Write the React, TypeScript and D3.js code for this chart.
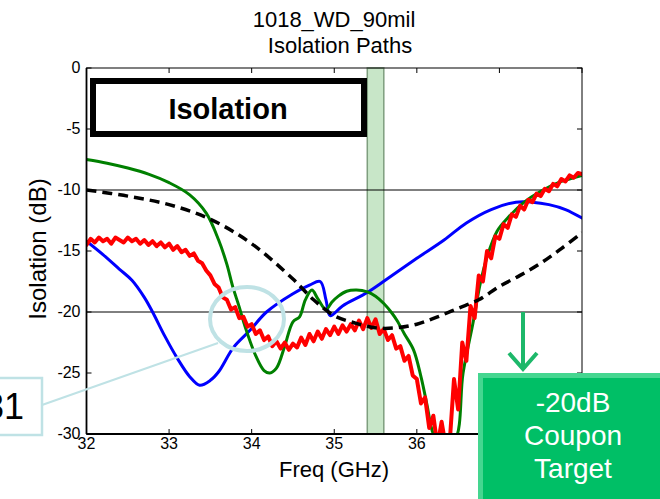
import React from 'react';
import * as d3 from 'd3';

// chart data (Freq GHz, Isolation dB)
const xTicks = [32, 33, 34, 35, 36, 37, 38];
const yTicks = [0, -5, -10, -15, -20, -25, -30];
const refLines = [-10, -20];
const band = [35.4, 35.6];

const blueFreq = [32.0, 32.2, 32.4, 32.55, 32.7, 32.8, 32.95, 33.1, 33.25, 33.37, 33.5, 33.6, 33.78, 33.98, 34.18, 34.5, 34.7, 34.83, 34.9, 34.95, 35.1, 35.4, 35.7, 36.0, 36.33, 36.6, 36.9, 37.2, 37.4, 37.6, 37.8, 38.0];
const blueIso = [-14.2, -15.3, -16.5, -17.4, -18.8, -20.0, -22.0, -23.8, -25.3, -26.0, -25.6, -24.9, -22.9, -21.5, -20.0, -18.5, -17.8, -17.5, -19.0, -20.3, -19.5, -18.4, -17.0, -15.6, -14.1, -12.7, -11.6, -11.0, -11.0, -11.2, -11.6, -12.3];

const greenFreq = [32.0, 32.25, 32.5, 32.75, 33.0, 33.25, 33.45, 33.6, 33.7, 33.77, 33.85, 33.92, 34.05, 34.15, 34.22, 34.3, 34.4, 34.5, 34.58, 34.65, 34.73, 34.8, 34.9, 34.97, 35.05, 35.15, 35.27, 35.4, 35.5, 35.6, 35.7, 35.76, 35.85, 35.96, 36.05, 36.12, 36.2, 36.3, 36.46, 36.56, 36.68, 36.77, 36.85, 36.97, 37.1, 37.3, 37.5, 37.75, 38.0];
const greenIso = [-7.5, -7.8, -8.2, -8.7, -9.4, -10.4, -11.9, -14.1, -16.1, -17.9, -19.6, -21.2, -23.6, -24.8, -25.0, -24.6, -22.8, -20.8, -20.4, -19.0, -18.2, -18.9, -19.8, -19.2, -18.7, -18.3, -18.2, -18.35, -18.7, -19.3, -20.1, -20.7, -21.8, -23.1, -25.3, -27.5, -30.0, -31.0, -30.5, -25.0, -20.9, -17.6, -15.5, -13.4, -12.3, -11.0, -10.1, -9.3, -8.8];

const redFreq = [
  32.00, 32.05, 32.10, 32.15, 32.20, 32.25, 32.30, 32.35, 32.40, 32.45,
  32.50, 32.55, 32.60, 32.65, 32.70, 32.75, 32.80, 32.85, 32.90, 32.95,
  33.00, 33.05, 33.10, 33.15, 33.20, 33.25, 33.30, 33.35, 33.40, 33.45,
  33.50, 33.55, 33.60, 33.65, 33.70, 33.75, 33.80, 33.85, 33.90, 33.95,
  34.00, 34.05, 34.10, 34.15, 34.20, 34.25, 34.30, 34.35, 34.40, 34.45,
  34.50, 34.55, 34.60, 34.65, 34.70, 34.75, 34.80, 34.85, 34.90, 34.95,
  35.00, 35.05, 35.10, 35.15, 35.20, 35.25, 35.30, 35.35, 35.40, 35.45,
  35.50, 35.55, 35.60, 35.65, 35.70, 35.75, 35.80, 35.85, 35.90, 35.95,
  36.00, 36.05, 36.10, 36.15, 36.20, 36.25, 36.30, 36.35, 36.40, 36.45,
  36.50, 36.55, 36.60, 36.65, 36.70, 36.75, 36.80, 36.85, 36.90, 36.95,
  37.00, 37.05, 37.10, 37.15, 37.20, 37.25, 37.30, 37.35, 37.40, 37.45,
  37.50, 37.55, 37.60, 37.65, 37.70, 37.75, 37.80, 37.85, 37.90, 37.95, 38.00,
];
const redIso = [
  -14.5, -14.0, -14.3, -13.9, -14.2, -14.0, -14.4, -13.9, -14.1, -14.3,
  -13.9, -14.2, -14.0, -14.4, -14.1, -14.5, -14.2, -14.6, -14.3, -14.7,
  -14.4, -14.9, -14.6, -15.1, -14.9, -15.4, -15.2, -15.8, -16.0, -16.6,
  -17.0, -17.7, -18.0, -18.8, -19.0, -19.8, -19.6, -20.5, -20.4, -21.2,
  -21.0, -21.8, -21.5, -22.3, -22.0, -22.8, -22.4, -23.0, -22.5, -23.1,
  -22.6, -22.9, -22.1, -22.7, -21.8, -22.4, -21.6, -22.2, -21.4, -21.9,
  -21.2, -21.8, -21.1, -21.6, -21.0, -21.5, -20.7, -21.4, -20.5, -21.3,
  -20.6, -21.8, -21.4, -22.3, -21.9, -23.0, -22.8, -24.0, -23.6, -25.2,
  -25.5, -27.5, -27.0, -29.5, -28.5, -31.0, -29.0, -31.0, -30.5, -25.5,
  -28.0, -22.5, -24.0, -19.5, -20.5, -17.0, -17.5, -15.0, -15.6, -13.8,
  -14.0, -12.8, -13.1, -12.0, -12.2, -11.3, -11.6, -10.8, -11.0, -10.3,
  -10.5, -9.9, -10.1, -9.5, -9.7, -9.1, -9.3, -8.8, -9.0, -8.6, -8.7,
];

const dashFreq = [32, 32.5, 33, 33.5, 34, 34.5, 34.75, 35, 35.25, 35.5, 35.75, 36, 36.25, 36.5, 36.75, 37, 37.25, 37.5, 37.75, 38];
const dashIso = [-10, -10.5, -11.2, -12.4, -14.4, -17.3, -19.0, -20.3, -20.9, -21.3, -21.3, -21.0, -20.4, -19.7, -19.0, -17.9, -17.0, -16.0, -14.8, -13.5];

const couponLines = ['-20dB', 'Coupon', 'Target'];

const W = 660;
const H = 499;
const font = '"Liberation Sans", Arial, Helvetica, sans-serif';

const x = d3.scaleLinear().domain([32, 38]).range([86.5, 582]);
const y = d3.scaleLinear().domain([-30, 0]).range([434, 68]);

const zip = (xs: number[], ys: number[]) => xs.map((v, i) => [v, ys[i]] as [number, number]);

const smooth = d3.line<[number, number]>()
  .x(d => x(d[0]))
  .y(d => y(d[1]))
  .curve(d3.curveCatmullRom.alpha(0.5));

const jagged = d3.line<[number, number]>()
  .x(d => x(d[0]))
  .y(d => y(d[1]));

export default function App() {
  const [x0, x1] = x.range();
  const [yb, yt] = y.range();
  const cyan = '#BFE2E5';
  const tick = 5;

  return (
    <div>
      <style>{'body{margin:0}'}</style>
      <svg width={W} height={H} style={{ display: 'block', fontFamily: font }}>
        <defs>
          <clipPath id="plot">
            <rect x={x0} y={yt} width={x1 - x0} height={yb - yt} />
          </clipPath>
        </defs>
        <rect width={W} height={H} fill="#fff" />

        {/* title */}
        <text x={334} y={27} textAnchor="middle" fontSize={22}>1018_WD_90mil</text>
        <text x={340} y={53} textAnchor="middle" fontSize={22}>Isolation Paths</text>

        {/* band */}
        <rect x={x(band[0])} y={yt} width={x(band[1]) - x(band[0])} height={yb - yt}
          fill="#C8E6C8" stroke="#7E9E7E" strokeWidth={1.5} />

        {/* reference lines */}
        {refLines.map(v => (
          <line key={v} x1={x0} x2={x1} y1={y(v)} y2={y(v)} stroke="#000" strokeWidth={1} />
        ))}

        {/* curves */}
        <g clipPath="url(#plot)" fill="none" strokeLinejoin="round" strokeLinecap="round">
          <path d={smooth(zip(blueFreq, blueIso)) || ''} stroke="#0000FF" strokeWidth={3} />
          <path d={smooth(zip(greenFreq, greenIso)) || ''} stroke="#008000" strokeWidth={3} />
          <path d={jagged(zip(redFreq, redIso)) || ''} stroke="#FF0000" strokeWidth={4} />
          <path d={smooth(zip(dashFreq, dashIso)) || ''} stroke="#000" strokeWidth={3.5}
            strokeDasharray="10 6" strokeLinecap="butt" />
        </g>

        {/* axes box and ticks */}
        <rect x={x0} y={yt} width={x1 - x0} height={yb - yt} fill="none" stroke="#000" strokeWidth={1} />
        <line x1={x0} x2={x0} y1={yt} y2={yb} stroke="#000" strokeWidth={1.8} />
        <line x1={x0} x2={x1} y1={yb} y2={yb} stroke="#000" strokeWidth={1.8} />
        {xTicks.map(t => (
          <g key={'x' + t}>
            <line x1={x(t)} x2={x(t)} y1={yb} y2={yb - tick} stroke="#000" />
            <line x1={x(t)} x2={x(t)} y1={yt} y2={yt + tick} stroke="#000" />
            <text x={x(t)} y={yb + 15} textAnchor="middle" fontSize={16}>{t}</text>
          </g>
        ))}
        {yTicks.map(t => (
          <g key={'y' + t}>
            <line x1={x0} x2={x0 + tick} y1={y(t)} y2={y(t)} stroke="#000" />
            <line x1={x1} x2={x1 - tick} y1={y(t)} y2={y(t)} stroke="#000" />
            <text x={x0 - 6} y={y(t) + 5} textAnchor="end" fontSize={16}>{t}</text>
          </g>
        ))}
        <text x={334} y={477} textAnchor="middle" fontSize={22}>Freq (GHz)</text>
        <text transform={`translate(46, ${(yt + yb) / 2 - 2}) rotate(-90)`} textAnchor="middle" fontSize={24}>Isolation (dB)</text>

        {/* Isolation label box */}
        <rect x={93} y={81} width={271} height={53} fill="#fff" stroke="#000" strokeWidth={6} />
        <text x={228} y={119} textAnchor="middle" fontSize={29} fontWeight="bold">Isolation</text>

        {/* callout */}
        <ellipse cx={247} cy={319} rx={37} ry={32} fill="none" stroke={cyan} strokeWidth={4} />
        <line x1={218} y1={343} x2={42} y2={405} stroke={cyan} strokeWidth={2} />
        <rect x={-10} y={378} width={52} height={57} fill="#fff" stroke={cyan} strokeWidth={2.5} />
        <text x={24} y={419} textAnchor="end" fontSize={36}>S31</text>

        {/* coupon target */}
        <line x1={523} x2={523} y1={y(-20)} y2={369} stroke="#1DB86A" strokeWidth={4} />
        <polyline points="509,353 523,369 537,353" fill="none" stroke="#1DB86A" strokeWidth={4} />
        <rect x={478} y={373} width={W - 478} height={H - 373} fill="#00BF66" />
        <polygon points={`478,373 ${W},373 ${W},378 483,378 483,${H} 478,${H}`} fill="#45D690" />
        {couponLines.map((s, i) => (
          <text key={s} x={573} y={412 + i * 33} textAnchor="middle" fontSize={28} fill="#fff">{s}</text>
        ))}
      </svg>
    </div>
  );
}
